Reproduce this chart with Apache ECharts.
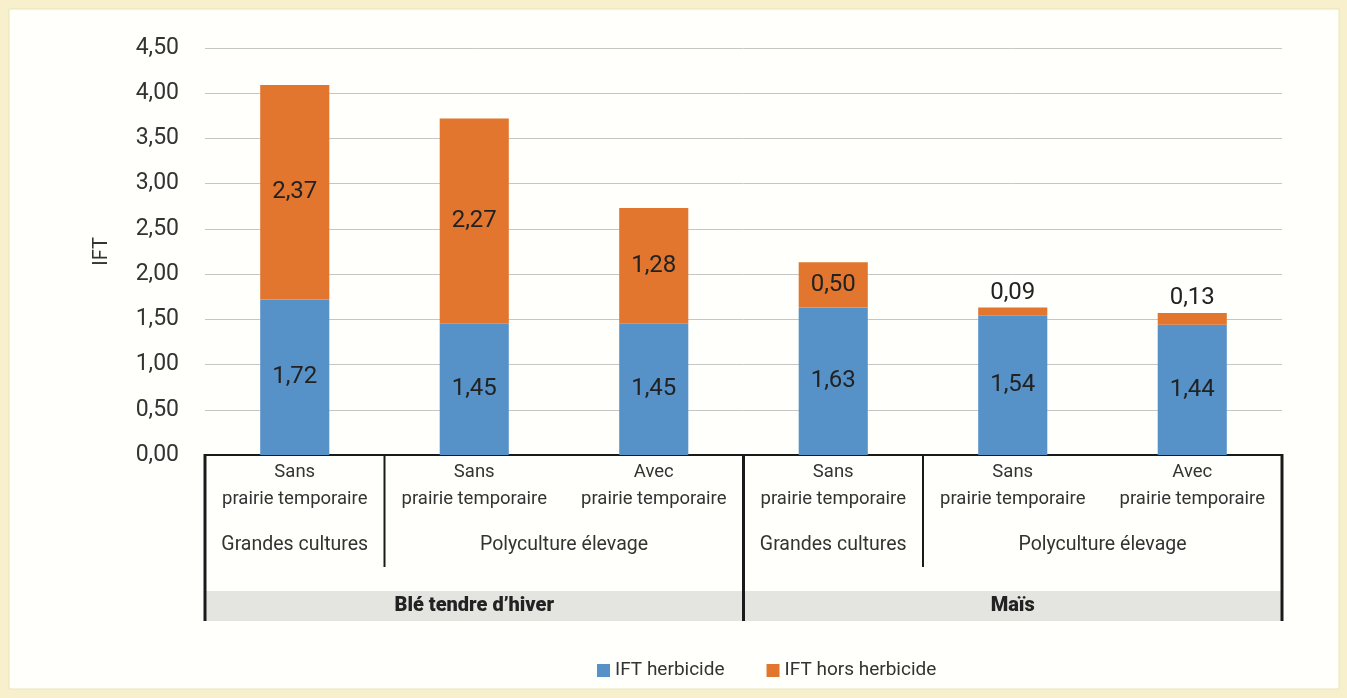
<!DOCTYPE html>
<html>
<head>
<meta charset="utf-8">
<script src="https://cdn.jsdelivr.net/npm/echarts@6/dist/echarts.min.js"></script>
<style>
html,body{margin:0;padding:0;background:#f8f0cc;}
#c{width:1347px;height:698px;}
</style>
</head>
<body>
<div id="c"></div>
<script>
const categories = ["Sans\nprairie temporaire","Sans\nprairie temporaire","Avec\nprairie temporaire","Sans\nprairie temporaire","Sans\nprairie temporaire","Avec\nprairie temporaire"];
const herbicide = [1.72, 1.45, 1.45, 1.63, 1.54, 1.44];
const horsHerbicide = [2.37, 2.27, 1.28, 0.50, 0.09, 0.13];
const systemGroups = [
  {label: "Grandes cultures", from: 0, to: 0},
  {label: "Polyculture élevage", from: 1, to: 2},
  {label: "Grandes cultures", from: 3, to: 3},
  {label: "Polyculture élevage", from: 4, to: 5}
];
const cropGroups = [
  {label: "Blé tendre d’hiver", from: 0, to: 2},
  {label: "Maïs", from: 3, to: 5}
];
const yTicks = [0, 0.5, 1, 1.5, 2, 2.5, 3, 3.5, 4, 4.5];
const seriesNames = ["IFT herbicide", "IFT hors herbicide"];

const BLUE = "#5692c8", ORANGE = "#e2762f";
const fmt = v => v.toFixed(2).replace('.', ',');
const FONT = "Roboto";

const chart = echarts.init(document.getElementById('c'));
const option = {
  animation: false,
  textStyle: {fontFamily: FONT},
  grid: {left: 205, right: 65, top: 48, bottom: 243, containLabel: false},
  legend: {
    top: 656, left: 592, itemWidth: 13, itemHeight: 13, itemGap: 42, icon: 'rect',
    textStyle: {fontSize: 19, color: '#333', fontFamily: FONT},
    data: seriesNames
  },
  xAxis: {
    type: 'category', data: categories,
    axisLine: {lineStyle: {color: '#1a1a1a', width: 2}},
    axisTick: {show: false},
    axisLabel: {interval: 0, fontSize: 18.5, lineHeight: 27, color: '#333', margin: 4, fontFamily: FONT}
  },
  yAxis: {
    type: 'value', min: yTicks[0], max: yTicks[yTicks.length-1], interval: 0.5,
    name: 'IFT', nameLocation: 'middle', nameGap: 93, nameRotate: 90,
    nameTextStyle: {fontSize: 20, color: '#333', fontFamily: FONT},
    axisLine: {show: false}, axisTick: {show: false},
    splitLine: {lineStyle: {color: '#c6c6c6', width: 1}},
    axisLabel: {formatter: fmt, fontSize: 23, color: '#333', margin: 26, fontFamily: FONT}
  },
  series: [
    {
      name: seriesNames[0], type: 'bar', stack: 'ift', barWidth: '38.5%',
      itemStyle: {color: BLUE},
      label: {show: true, position: 'inside', formatter: p => fmt(p.value), fontSize: 24, color: '#222', fontFamily: FONT},
      data: herbicide
    },
    {
      name: seriesNames[1], type: 'bar', stack: 'ift', barWidth: '38.5%',
      itemStyle: {color: ORANGE},
      label: {show: true, position: 'inside', formatter: p => fmt(p.value), fontSize: 24, color: '#222', fontFamily: FONT},
      data: horsHerbicide.map(v => v < 0.3 ? {value: v, label: {position: 'top', distance: 3}} : v)
    }
  ]
};
chart.setOption(option);

function buildGraphics() {
  const c0 = chart.convertToPixel({xAxisIndex: 0}, 0);
  const c1 = chart.convertToPixel({xAxisIndex: 0}, 1);
  const w = c1 - c0;
  const b = k => c0 - w / 2 + k * w;
  const cx = (from, to) => (b(from) + b(to + 1)) / 2;
  const y0 = chart.convertToPixel({yAxisIndex: 0}, 0);
  const yBottom = y0 + 166;
  const bandTop = y0 + 136;
  const g = [];
  g.push({type: 'rect', z: -10, silent: true, shape: {x: 9, y: 9, width: 1330, height: 680}, style: {fill: '#fffffc', stroke: '#e9e4b8', lineWidth: 1}});
  g.push({type: 'rect', z: 0, silent: true, shape: {x: b(0), y: bandTop, width: b(6) - b(0), height: yBottom - bandTop}, style: {fill: '#e4e4e1'}});
  const full = [0, 3, 6];
  full.forEach(k => g.push({type: 'line', z: 5, silent: true, shape: {x1: b(k), y1: y0 - 1, x2: b(k), y2: yBottom}, style: {stroke: '#1a1a1a', lineWidth: 3}}));
  systemGroups.forEach(sg => {
    if (!full.includes(sg.to + 1)) {
      g.push({type: 'line', z: 5, silent: true, shape: {x1: b(sg.to + 1), y1: y0, x2: b(sg.to + 1), y2: y0 + 112}, style: {stroke: '#1a1a1a', lineWidth: 2}});
    }
    g.push({type: 'text', z: 6, silent: true, x: cx(sg.from, sg.to), y: y0 + 90, style: {text: sg.label, fontSize: 19.5, fontFamily: FONT, fill: '#333', align: 'center', verticalAlign: 'middle'}});
  });
  cropGroups.forEach(cg => {
    g.push({type: 'text', z: 6, silent: true, x: cx(cg.from, cg.to), y: (bandTop + yBottom) / 2, style: {text: cg.label, fontSize: 20, fontWeight: 900, fontFamily: FONT, fill: '#222', align: 'center', verticalAlign: 'middle'}});
  });
  chart.setOption({graphic: g});
}
buildGraphics();
</script>
</body>
</html>
